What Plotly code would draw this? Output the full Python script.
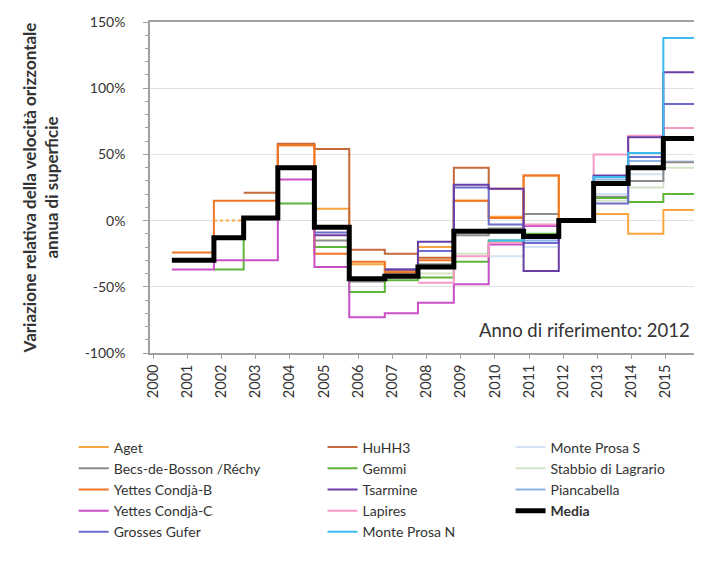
import plotly.graph_objects as go

# interval boundaries (survey dates, decimal years)
breaks = [2000.55, 2001.78, 2002.65, 2003.65, 2004.72, 2005.74, 2006.78, 2007.75,
          2008.80, 2009.82, 2010.84, 2011.87, 2012.89, 2013.90, 2014.93, 2015.97]
N = None
# relative velocity change (%) per interval
aget         = [N, N, 2, 57, 9, -33, -38, -20, 15, 3, 34, 0, 5, -10, 8]
aget_dashed  = [N, 0, N, N, N, N, N, N, N, N, N, N, N, N, N]
huhh3        = [N, N, 21, 58, 54, -22, -25, -28, 40, 24, -13, 0, N, N, N]
monte_s      = [N, N, N, N, N, N, N, N, N, -27, -20, 0, 20, 35, 45]
becs         = [N, N, N, N, -15, -46, -40, -33, -11, -6, 5, 0, 18, 30, 44]
gemmi        = [N, -37, 1, 13, -20, -54, -45, -43, -31, -15, -10, 0, 17, 14, 20]
stabbio      = [N, N, N, N, N, N, N, -40, -25, -15, -12, 0, 15, 25, 40]
yettes_b     = [-24, 15, 15, 57, -25, -31, -39, -30, 15, 2, 34, 0, N, N, N]
tsarmine     = [N, N, N, N, -11, N, -37, -16, 27, 24, -38, 0, 34, 63, 112]
piancabella  = [N, N, N, N, N, N, N, N, N, -17, -15, 0, 31, 45, N]
yettes_c     = [-37, -30, -30, 31, -35, -73, -70, -62, -48, -18, -4, 0, N, N, N]
lapires      = [N, N, N, N, N, N, N, -47, -27, -17, -3, 0, 50, 64, 70]
media        = [-30, -13, 2, 40, -5, -44, -42, -35, -8, -8, -12, 0, 28, 40, 62]
grosses      = [N, N, N, N, -9, N, -37, -23, 25, -3, -17, 0, 13, 48, 88]
monte_n      = [N, N, N, N, N, N, N, N, N, -15, -12, 0, 33, 51, 138]

year_ticks = list(range(2000, 2016))
y_ticks = [-100, -50, 0, 50, 100, 150]
y_labels = ["-100%", "-50%", "0%", "50%", "100%", "150%"]


def steps(vals):
    xs, ys = [], []
    for i, v in enumerate(vals):
        if v is None:
            if xs and ys[-1] is not None:
                xs.append(None)
                ys.append(None)
            continue
        xs += [breaks[i], breaks[i + 1]]
        ys += [v, v]
    return xs, ys


series = [
    # name, values, color, width, legend, rank
    ("Monte Prosa S", monte_s, "#d3e3f3", 2, "legend3", 1),
    ("Stabbio di Lagrario", stabbio, "#d5e4c6", 2, "legend3", 2),
    ("Piancabella", piancabella, "#8db4e2", 2, "legend3", 3),
    ("Becs-de-Bosson /Réchy", becs, "#8c8c8c", 2, "legend", 2),
    ("Aget", aget, "#f9a53f", 2, "legend", 1),
    ("HuHH3", huhh3, "#c46a3c", 2, "legend2", 1),
    ("Gemmi", gemmi, "#5fb43c", 2, "legend2", 2),
    ("Yettes Condjà-B", yettes_b, "#f07524", 2, "legend", 3),
    ("Yettes Condjà-C", yettes_c, "#c94fc5", 2, "legend", 4),
    ("Lapires", lapires, "#f79ac8", 2, "legend2", 4),
    ("Grosses Gufer", grosses, "#6d6ccc", 2, "legend", 5),
    ("Tsarmine", tsarmine, "#6a3fa5", 2, "legend2", 3),
    ("Monte Prosa N", monte_n, "#3dbbef", 2, "legend2", 5),
]

fig = go.Figure()
for name, vals, color, w, leg, rank in series:
    xs, ys = steps(vals)
    fig.add_trace(go.Scatter(x=xs, y=ys, mode="lines", name=name,
                             line=dict(color=color, width=w),
                             legend=leg, legendrank=rank, connectgaps=False))
xs, ys = steps(aget_dashed)
fig.add_trace(go.Scatter(x=xs, y=ys, mode="lines", showlegend=False,
                         line=dict(color="#f9a53f", width=2, dash="dot")))
xs, ys = steps(media)
fig.add_trace(go.Scatter(x=xs, y=ys, mode="lines", name="<b>Media</b>",
                         line=dict(color="black", width=5),
                         legend="legend3", legendrank=4))

legend_common = dict(orientation="v", yanchor="top", y=-0.237,
                     font=dict(family="Lato, sans-serif", size=14, color="#333"),
                     bgcolor="rgba(0,0,0,0)", tracegroupgap=0, itemwidth=30)

fig.update_layout(
    width=702, height=567,
    margin=dict(l=142, r=5, t=12, b=222),
    paper_bgcolor="white", plot_bgcolor="white",
    font=dict(family="Lato, sans-serif", size=12, color="#333"),
    legend=dict(x=-0.138, **legend_common),
    legend2=dict(x=0.312, **legend_common),
    legend3=dict(x=0.652, **legend_common),
    xaxis=dict(range=[1999.91, 2016.09], tickmode="array", tickvals=year_ticks,
               ticktext=[str(y) for y in year_ticks], tickangle=-90,
               tickfont=dict(size=14.5, color="#333"),
               showgrid=False, zeroline=False, showline=True, linecolor="#a0a0a0",
               linewidth=1.5, mirror=True, ticks="outside", ticklen=4, tickcolor="#a0a0a0"),
    yaxis=dict(range=[-100, 150], tickmode="array", tickvals=y_ticks, ticktext=y_labels,
               tickfont=dict(size=14, color="#333"), ticklabelstandoff=15,
               showgrid=True, gridcolor="#e0e0e0", zeroline=False,
               showline=True, linecolor="#a0a0a0", linewidth=1.5, mirror=True,
               ticks="outside", ticklen=5, tickcolor="#a0a0a0",
               minor=dict(dtick=10, ticks="outside", ticklen=3, tickcolor="#a0a0a0", showgrid=False),
               title=dict(text="<b>Variazione relativa della velocità orizzontale<br>annua di superficie</b>",
                          font=dict(size=17, color="#333"), standoff=22)),
    annotations=[dict(text="Anno di riferimento: 2012", xref="paper", yref="paper",
                      x=0.981, y=0.03, xanchor="right", yanchor="bottom", showarrow=False,
                      font=dict(size=18.5, color="#333"))],
)

fig.write_html("out.html")
